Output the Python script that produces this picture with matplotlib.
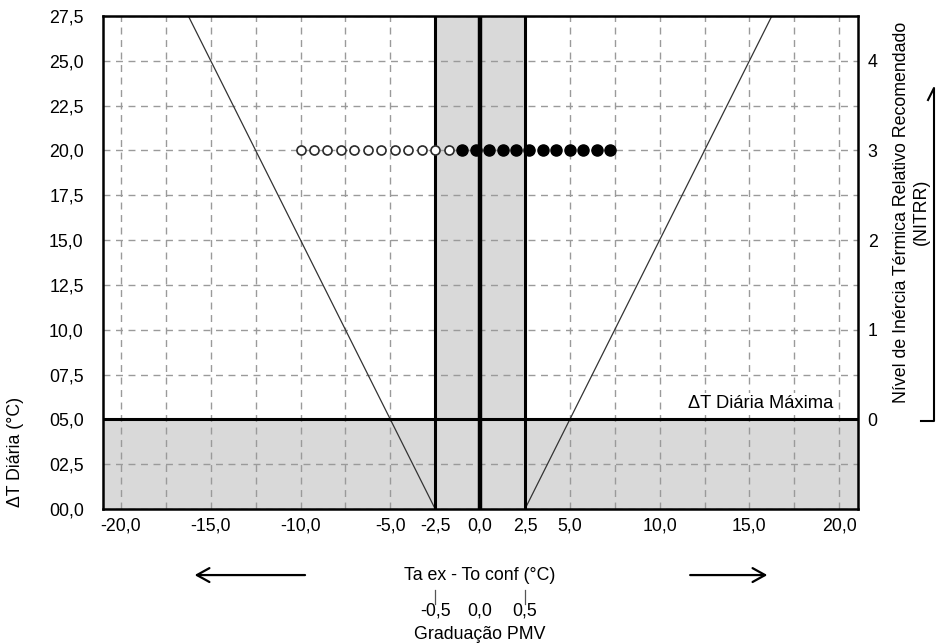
#!/usr/bin/env python3
"""Diagrama de apoio: Delta T diaria vs (Ta ex - To conf) com NITRR."""

import matplotlib
matplotlib.use("Agg")
import matplotlib.pyplot as plt
import numpy as np

plt.rcParams["font.family"] = ["Liberation Sans", "DejaVu Sans"]
FS = 12.8

# eixo x: Ta ex - To conf (°C)
x_ticks = [-20.0, -15.0, -10.0, -5.0, -2.5, 0.0, 2.5, 5.0, 10.0, 15.0, 20.0]
y_ticks = [0.0, 2.5, 5.0, 7.5, 10.0, 12.5, 15.0, 17.5, 20.0, 22.5, 25.0, 27.5]
nitrr_ticks = [0, 1, 2, 3, 4]

dt_max = 5.0
comfort = [-2.5, 2.5]
pmv_pos = [-2.5, 0.0, 2.5]
pmv_labels = ["-0,5", "0,0", "0,5"]

# retas limite (inclinação 2 °C/°C a partir da zona de conforto)
left_line_x = [-16.25, -2.5]
left_line_y = [27.5, 0.0]
right_line_x = [2.5, 16.25]
right_line_y = [0.0, 27.5]

# pontos de cálculo para Delta T = 20
pts_y = 20.0
open_x = [-10.0, -9.25, -8.5, -7.75, -7.0, -6.25, -5.5, -4.75, -4.0, -3.25, -2.5, -1.75]
filled_x = [-1.0, -0.25, 0.5, 1.25, 2.0, 2.75, 3.5, 4.25, 5.0, 5.75, 6.5, 7.25]


def fmt(v, width=0):
    s = f"{v:0{width}.1f}" if width else f"{v:.1f}"
    return s.replace(".", ",")


fig = plt.figure(figsize=(9.37, 6.43), dpi=100)
ax = fig.add_axes([0.110, 0.2084, 0.8057, 0.7667])
xmin, xmax = -21.0, 21.05
ymin, ymax = 0.0, 27.5
ax.set_xlim(xmin, xmax)
ax.set_ylim(ymin, ymax)

fill_c = "#d9d9d9"
ax.axhspan(ymin, dt_max, color=fill_c, lw=0, zorder=0)
ax.axvspan(comfort[0], comfort[1], color=fill_c, lw=0, zorder=0)

# grelha tracejada a cada 2,5
for gx in np.arange(-20.0, 20.01, 2.5):
    ax.axvline(gx, color="#9a9a9a", lw=1.0, ls=(0, (5, 4)), zorder=1)
for gy in y_ticks:
    ax.axhline(gy, color="#9a9a9a", lw=1.0, ls=(0, (5, 4)), zorder=1)

ax.plot(left_line_x, left_line_y, color="#333333", lw=0.9, zorder=2)
ax.plot(right_line_x, right_line_y, color="#333333", lw=0.9, zorder=2)

ax.axhline(dt_max, color="black", lw=2.2, zorder=3)
ax.axvline(comfort[0], color="black", lw=2.2, zorder=3)
ax.axvline(comfort[1], color="black", lw=2.2, zorder=3)
ax.axvline(0.0, color="black", lw=3.2, zorder=3)

ax.plot(open_x, [pts_y] * len(open_x), ls="none", marker="o", ms=6.5,
        mfc="white", mec="#2a2a2a", mew=1.2, zorder=4)
ax.plot(filled_x, [pts_y] * len(filled_x), ls="none", marker="o", ms=8,
        mfc="black", mec="black", zorder=4)

ax.text(19.65, dt_max + 0.4, "ΔT Diária Máxima", ha="right", va="bottom",
        fontsize=13.2, zorder=5,
        bbox=dict(facecolor="white", edgecolor="none", pad=1.5))

ax.set_xticks(x_ticks)
ax.set_xticklabels([fmt(v) for v in x_ticks], fontsize=FS)
ax.set_yticks(y_ticks)
ax.set_yticklabels([fmt(v, 4) for v in y_ticks], fontsize=FS)
ax.tick_params(axis="x", length=0, pad=6)
ax.tick_params(axis="y", length=0, pad=14)
for sp in ax.spines.values():
    sp.set_linewidth(1.8)
    sp.set_zorder(6)

# eixo direito: NITRR = (dT - 5) / 5
ax2 = ax.twinx()
ax2.set_ylim((ymin - dt_max) / 5.0, (ymax - dt_max) / 5.0)
ax2.set_yticks(nitrr_ticks)
ax2.set_yticklabels([str(v) for v in nitrr_ticks], fontsize=FS)
ax2.tick_params(length=0, pad=7)
for sp in ax2.spines.values():
    sp.set_visible(False)

fig.text(16 / 937, 1 - 452 / 643, "ΔT Diária (°C)", rotation=90,
         ha="center", va="center", fontsize=FS)
fig.text(902 / 937, 1 - 212 / 643, "Nível de Inércia Térmica Relativo Recomendado",
         rotation=90, ha="center", va="center", fontsize=FS)
fig.text(921 / 937, 1 - 212 / 643, "(NITRR)", rotation=90,
         ha="center", va="center", fontsize=FS)

# chaveta do NITRR
bx = 934 / 937
fig.add_artist(plt.Line2D([921 / 937, bx, bx, 928 / 937],
                          [1 - 421 / 643, 1 - 421 / 643, 1 - 88 / 643, 1 - 100 / 643],
                          color="black", lw=1.5))

# legenda inferior: eixo em °C e graduação PMV
trans = ax.get_xaxis_transform()
arrow_y = -0.134
ax.text(0.0, arrow_y, "Ta ex - To conf (°C)", transform=trans, ha="center",
        va="center", fontsize=FS)
arrow_style = dict(arrowstyle="->,head_length=0.9,head_width=0.5",
                   lw=1.6, color="black", shrinkA=0, shrinkB=0)
ax.annotate("", xy=(-15.9, arrow_y), xytext=(-9.75, arrow_y), xycoords=trans,
            textcoords=trans, annotation_clip=False, arrowprops=arrow_style)
ax.annotate("", xy=(16.0, arrow_y), xytext=(11.7, arrow_y), xycoords=trans,
            textcoords=trans, annotation_clip=False, arrowprops=arrow_style)

for px in (pmv_pos[0], pmv_pos[-1]):
    ax.plot([px, px], [-0.164, -0.192], transform=trans, color="#555555",
            lw=0.9, clip_on=False)
for px, lab in zip(pmv_pos, pmv_labels):
    ax.text(px, -0.207, lab, transform=trans, ha="center", va="center",
            fontsize=FS)
ax.text(0.0, -0.254, "Graduação PMV", transform=trans, ha="center",
        va="center", fontsize=FS)

fig.savefig("out.png", dpi=100)
